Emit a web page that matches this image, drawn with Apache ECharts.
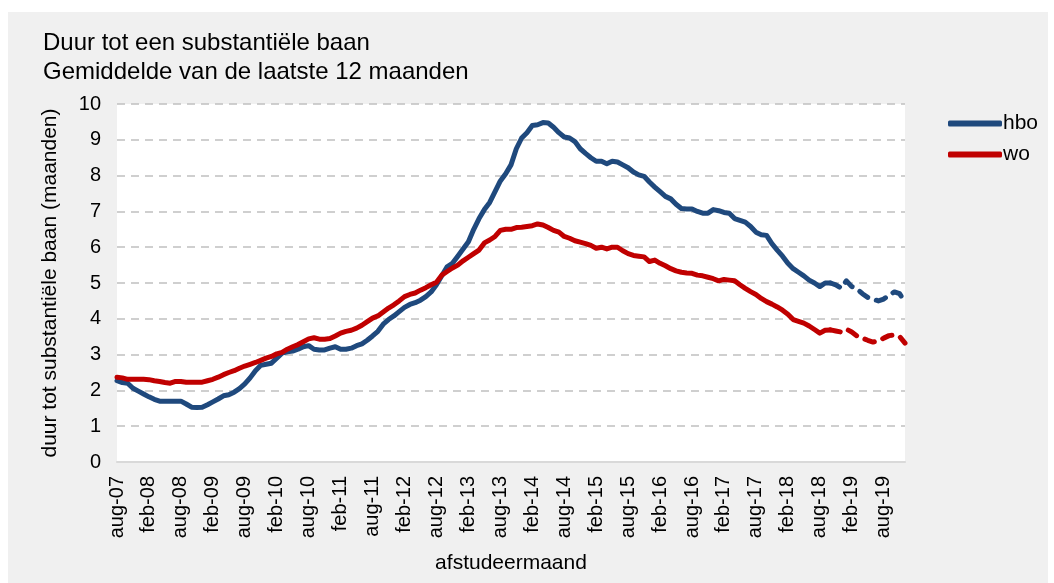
<!DOCTYPE html>
<html>
<head>
<meta charset="UTF-8">
<title>Duur tot een substantiële baan</title>
<script src="https://cdn.jsdelivr.net/npm/echarts@6/dist/echarts.min.js"></script>
<style>
  html, body { margin: 0; padding: 0; background: #fff; }
  #main { width: 1054px; height: 583px; }
</style>
</head>
<body>
<div id="main"></div>
<script type="text/javascript">
    // maanden aug-07 t/m dec-19
    var maandNamen = ['jan', 'feb', 'mrt', 'apr', 'mei', 'jun', 'jul', 'aug', 'sep', 'okt', 'nov', 'dec'];
    var startJaar = 2007, startMaand = 7, aantalMaanden = 149;
    var maanden = [];
    for (var k = 0; k < aantalMaanden; k++) {
        var m = (startMaand + k) % 12;
        var j = startJaar + Math.floor((startMaand + k) / 12);
        maanden.push(maandNamen[m] + '-' + String(j).slice(2));
    }

    // vanaf deze maand (index) wordt de lijn gestippeld
    var startVoorlopig = 134;

    var hbo = [
        2.27, 2.22, 2.20, 2.06, 1.98, 1.90, 1.82, 1.75, 1.70, 1.70, 1.70, 1.70,
        1.70, 1.62, 1.53, 1.52, 1.53, 1.60, 1.68, 1.76, 1.85, 1.88, 1.95, 2.05,
        2.18, 2.35, 2.55, 2.70, 2.73, 2.76, 2.90, 3.04, 3.08, 3.10, 3.15, 3.22,
        3.25, 3.15, 3.13, 3.13, 3.18, 3.22, 3.15, 3.15, 3.18, 3.25, 3.30, 3.40,
        3.52, 3.65, 3.85, 3.98, 4.08, 4.20, 4.32, 4.40, 4.45, 4.52, 4.62, 4.75,
        4.95, 5.20, 5.45, 5.55, 5.75, 5.95, 6.15, 6.50, 6.80, 7.05, 7.25, 7.55,
        7.85, 8.05, 8.30, 8.75, 9.05, 9.20, 9.40, 9.42, 9.48, 9.47, 9.35, 9.20,
        9.08, 9.05, 8.95, 8.75, 8.62, 8.50, 8.40, 8.40, 8.33, 8.40, 8.38, 8.30,
        8.22, 8.10, 8.02, 7.98, 7.82, 7.68, 7.55, 7.42, 7.35, 7.20, 7.08, 7.07,
        7.07, 7.00, 6.95, 6.95, 7.05, 7.02, 6.97, 6.95, 6.80, 6.75, 6.70, 6.58,
        6.42, 6.35, 6.33, 6.10, 5.92, 5.75, 5.55, 5.40, 5.30, 5.20, 5.08, 5.00,
        4.90, 5.00, 5.00, 4.95, 4.86, 5.06, 4.90, 4.83, 4.70, 4.60, 4.55, 4.50,
        4.55, 4.66, 4.75, 4.70, 4.45
    ];

    var wo = [
        2.37, 2.35, 2.31, 2.31, 2.31, 2.31, 2.30, 2.27, 2.25, 2.22, 2.20, 2.25,
        2.25, 2.23, 2.23, 2.23, 2.23, 2.27, 2.31, 2.37, 2.44, 2.50, 2.55, 2.62,
        2.68, 2.73, 2.78, 2.84, 2.90, 2.95, 3.02, 3.06, 3.15, 3.22, 3.28, 3.36,
        3.44, 3.47, 3.43, 3.43, 3.45, 3.52, 3.60, 3.65, 3.68, 3.74, 3.82, 3.92,
        4.02, 4.08, 4.19, 4.30, 4.39, 4.50, 4.62, 4.68, 4.72, 4.80, 4.87, 4.95,
        5.02, 5.22, 5.32, 5.42, 5.50, 5.62, 5.72, 5.82, 5.92, 6.12, 6.20, 6.30,
        6.47, 6.50, 6.50, 6.55, 6.56, 6.58, 6.60, 6.65, 6.62, 6.55, 6.47, 6.42,
        6.30, 6.25, 6.18, 6.14, 6.10, 6.05, 5.97, 6.00, 5.95, 6.00, 6.00, 5.90,
        5.82, 5.77, 5.75, 5.73, 5.60, 5.64, 5.55, 5.48, 5.40, 5.34, 5.30, 5.28,
        5.27, 5.22, 5.20, 5.16, 5.12, 5.06, 5.10, 5.08, 5.06, 4.95, 4.85, 4.76,
        4.68, 4.57, 4.48, 4.41, 4.33, 4.24, 4.13, 3.98, 3.93, 3.88, 3.80, 3.70,
        3.60, 3.68, 3.69, 3.66, 3.63, 3.71, 3.63, 3.52, 3.46, 3.40, 3.35, 3.38,
        3.46, 3.53, 3.55, 3.50, 3.32
    ];

    var yTicks = { min: 0, max: 10, interval: 1 };

    var kleurHbo = '#1f497d';
    var kleurWo = '#c00000';

    function definitief(arr) {
        return arr.map(function (v, i) { return i <= startVoorlopig ? v : null; });
    }
    function voorlopig(arr) {
        return arr.map(function (v, i) { return i >= startVoorlopig ? v : null; });
    }

    var myChart = echarts.init(document.getElementById('main'));
    var font = 'Arial, "Liberation Sans", sans-serif';

    var option = {
        backgroundColor: '#fff',
        animation: false,
        textStyle: { fontFamily: font },
        graphic: [
            {
                type: 'rect', z: -10, silent: true,
                shape: { x: 8, y: 12, width: 1040, height: 571 },
                style: { fill: '#f0f0f0' }
            },
            {
                type: 'text', left: 43, top: 29,
                style: {
                    text: 'Duur tot een substantiële baan\nGemiddelde van de laatste 12 maanden',
                    fontSize: 24, lineHeight: 29, fill: '#000', fontFamily: font
                }
            }
        ],
        legend: {
            data: ['hbo', 'wo'],
            orient: 'vertical',
            left: 948,
            top: 113,
            itemGap: 10,
            itemWidth: 54,
            itemHeight: 6,
            icon: 'roundRect',
            padding: 0,
            textStyle: { fontSize: 21, color: '#000', fontFamily: font, padding: [0, 0, 0, -4] }
        },
        grid: {
            left: 117, right: 149, top: 104, bottom: 121,
            show: true, backgroundColor: '#fff', borderWidth: 0
        },
        xAxis: {
            type: 'category',
            data: maanden,
            boundaryGap: false,
            name: 'afstudeermaand',
            nameLocation: 'middle',
            nameGap: 91,
            nameTextStyle: { fontSize: 21, color: '#000' },
            axisLine: { lineStyle: { color: '#d9d9d9', width: 2 } },
            axisTick: { show: false },
            axisLabel: { interval: 5, rotate: 90, fontSize: 20, color: '#000', margin: 14 },
            splitLine: { show: false }
        },
        yAxis: {
            type: 'value',
            min: yTicks.min, max: yTicks.max, interval: yTicks.interval,
            name: 'duur tot substantiële baan (maanden)',
            nameLocation: 'middle',
            nameGap: 56,
            nameTextStyle: { fontSize: 21, color: '#000' },
            axisLine: { show: false },
            axisTick: { show: false },
            axisLabel: { fontSize: 20, color: '#000', margin: 16 },
            splitLine: { lineStyle: { color: '#c0c0c0', width: 1.5, type: [8, 6] } }
        },
        series: [
            {
                name: 'hbo', type: 'line', data: definitief(hbo), symbol: 'none',
                lineStyle: { color: kleurHbo, width: 5, cap: 'round', join: 'round' },
                itemStyle: { color: kleurHbo }
            },
            {
                name: 'hbo', type: 'line', data: voorlopig(hbo), symbol: 'none',
                lineStyle: { color: kleurHbo, width: 5, type: [10, 9], cap: 'round', join: 'round' },
                itemStyle: { color: kleurHbo }
            },
            {
                name: 'wo', type: 'line', data: definitief(wo), symbol: 'none',
                lineStyle: { color: kleurWo, width: 5, cap: 'round', join: 'round' },
                itemStyle: { color: kleurWo }
            },
            {
                name: 'wo', type: 'line', data: voorlopig(wo), symbol: 'none',
                lineStyle: { color: kleurWo, width: 5, type: [10, 9], cap: 'round', join: 'round' },
                itemStyle: { color: kleurWo }
            }
        ]
    };
    myChart.setOption(option);
</script>
</body>
</html>
